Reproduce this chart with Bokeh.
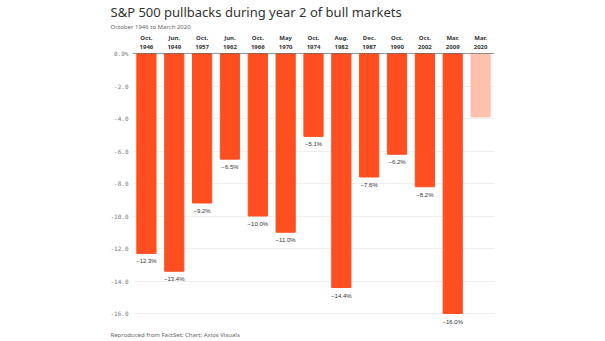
from bokeh.plotting import figure
from bokeh.models import ColumnDataSource, FixedTicker, Span, Title
from bokeh.embed import file_html
from bokeh.resources import INLINE

categories = ["Oct.\n1946", "Jun.\n1949", "Oct.\n1957", "Jun.\n1962", "Oct.\n1966", "May\n1970",
              "Oct.\n1974", "Aug.\n1982", "Dec.\n1987", "Oct.\n1990", "Oct.\n2002", "Mar.\n2009", "Mar.\n2020"]
values = [-12.3, -13.4, -9.2, -6.5, -10.0, -11.0, -5.1, -14.4, -7.6, -6.2, -8.2, -16.0, -3.9]
value_labels = ["−12.3%", "−13.4%", "−9.2%", "−6.5%", "−10.0%", "−11.0%", "−5.1%", "−14.4%",
                "−7.6%", "−6.2%", "−8.2%", "−16.0%", ""]
y_ticks = [0, -2, -4, -6, -8, -10, -12, -14, -16]
y_tick_labels = ["0.0%", "-2.0", "-4.0", "-6.0", "-8.0", "-10.0", "-12.0", "-14.0", "-16.0"]

colors = ["#ff4f20"] * 12 + ["#ffc0ad"]

src = ColumnDataSource(dict(cat=categories, val=values, lab=value_labels, color=colors))

p = figure(width=605, height=341, x_range=categories, y_range=(-16.8, 0),
           output_backend="svg", toolbar_location=None,
           x_axis_location="above",
           min_border_left=132, min_border_right=111, min_border_top=53, min_border_bottom=15)
p.outline_line_color = None
p.background_fill_color = "white"
p.border_fill_color = "white"
p.x_range.range_padding = 0

p.vbar(x="cat", top=0, bottom="val", width=0.69, color="color", source=src)

p.text(x="cat", y="val", text="lab", source=src, text_align="center", text_baseline="top",
       y_offset=5, text_font_size="6px", text_color="#333333")

# axes
xa = p.xaxis[0]
xa.axis_line_color = None
xa.major_tick_line_color = None
xa.minor_tick_line_color = None
xa.major_tick_out = 0
xa.major_tick_in = 0
xa.minor_tick_out = 0
xa.major_label_text_font_size = "6px"
xa.major_label_text_font_style = "bold"
xa.major_label_text_color = "#333333"
xa.major_label_standoff = 3
xa.major_label_text_font = "Noto Sans"
xa.major_label_text_line_height = 1.1

ya = p.yaxis[0]
ya.ticker = FixedTicker(ticks=y_ticks)
ya.major_label_overrides = {t: l for t, l in zip(y_ticks, y_tick_labels)}
ya.axis_line_color = None
ya.major_tick_line_color = None
ya.minor_tick_line_color = None
ya.major_tick_out = 0
ya.minor_tick_out = 0
ya.major_label_text_font = "DejaVu Sans Mono"
ya.major_label_text_font_size = "6px"
ya.major_label_text_color = "#777777"
ya.major_label_standoff = 4

p.xgrid.grid_line_color = None
p.ygrid.ticker = FixedTicker(ticks=y_ticks)
p.ygrid.grid_line_color = "#eeeeee"

p.add_layout(Span(location=0, dimension="width", line_color="#333333", line_width=1))

p.add_layout(Title(text="October 1946 to March 2020", text_font="Noto Sans",
                   text_font_size="6px", text_color="#666666", text_font_style="normal",
                   align="left", offset=-22, standoff=0), "above")
p.add_layout(Title(text="S&P 500 pullbacks during year 2 of bull markets", text_font="Noto Sans",
                   text_font_size="13px", text_color="#333333", text_font_style="normal",
                   align="left", offset=-22, standoff=0), "above")
p.add_layout(Title(text="Reproduced from FactSet; Chart: Axios Visuals", text_font="Noto Sans",
                   text_font_size="6px", text_color="#666666", text_font_style="normal",
                   align="left", offset=-22, standoff=4), "below")

open("out.html", "w").write(file_html(p, INLINE))
